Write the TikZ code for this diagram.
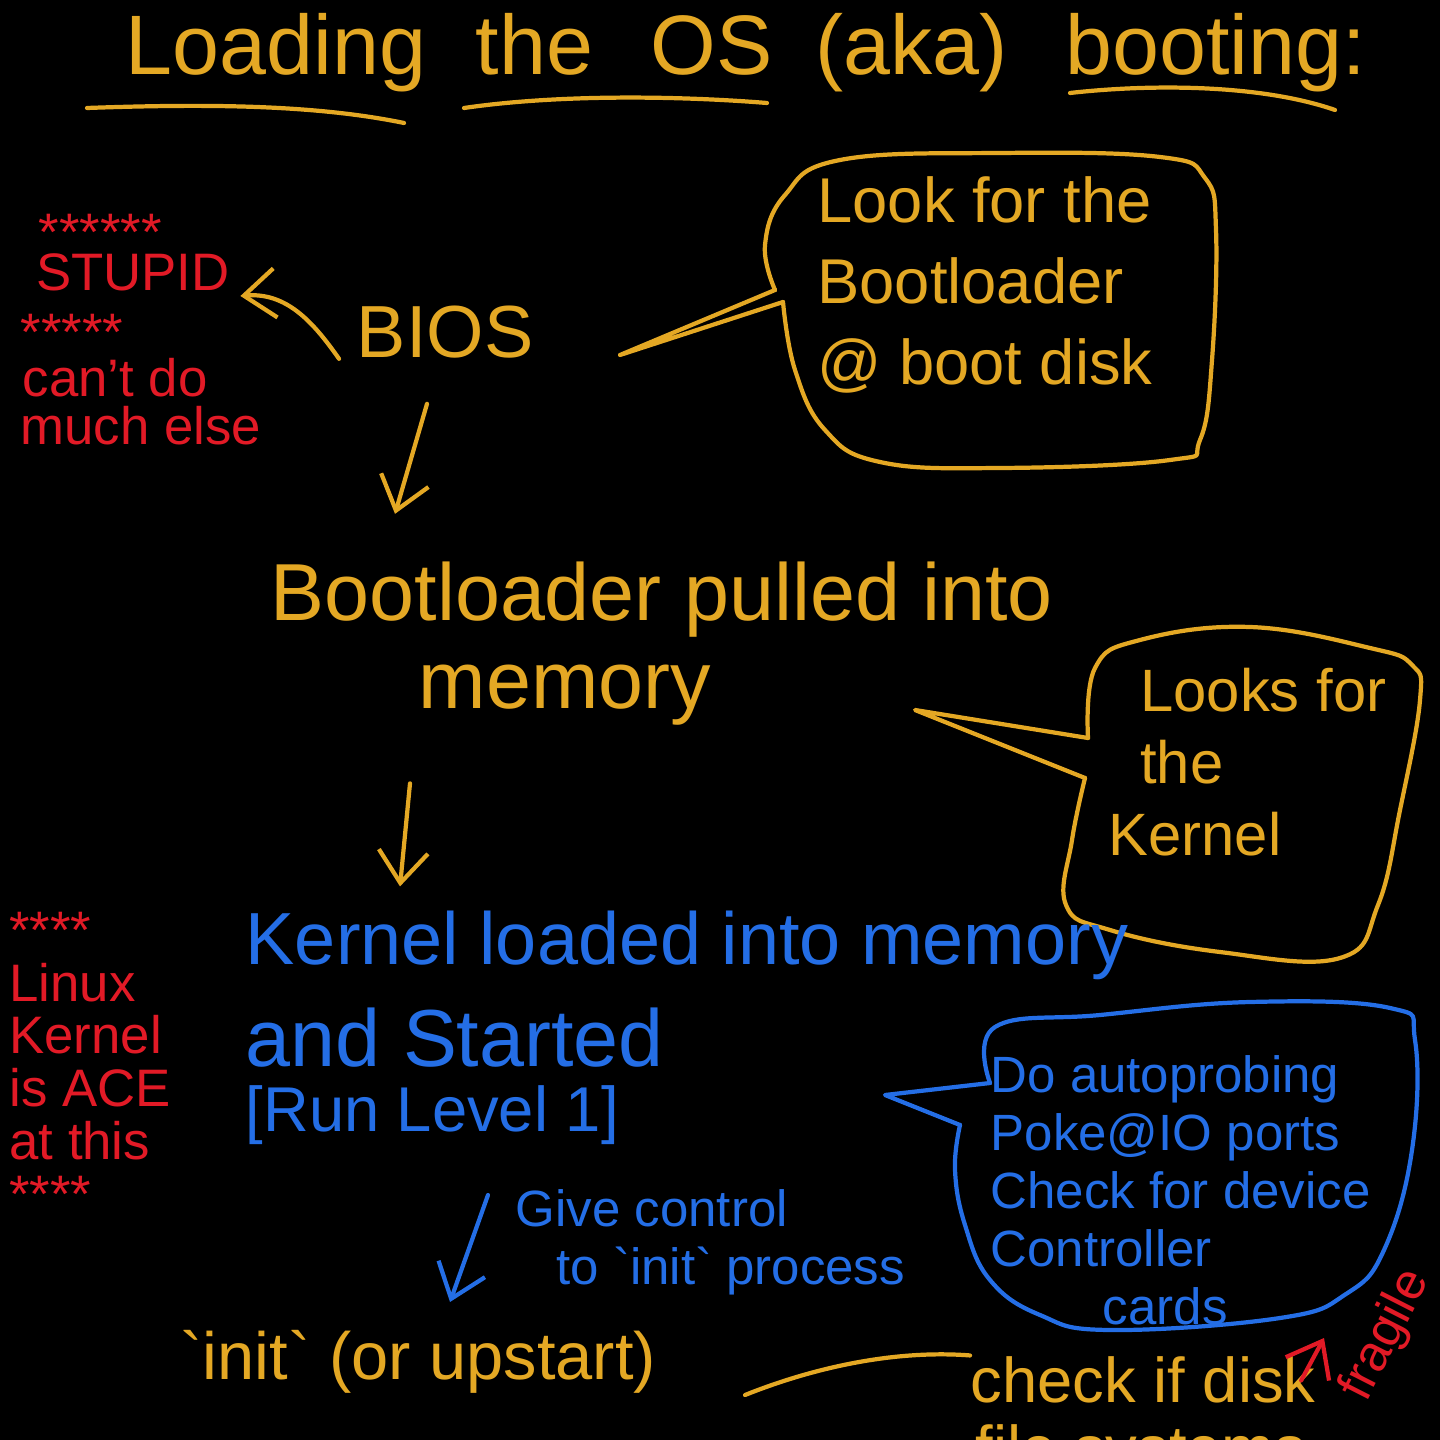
\documentclass[tikz,border=0pt]{standalone}
\usepackage{fontspec}
\setmainfont{Liberation Sans}
\usetikzlibrary{arrows.meta,calc,positioning}

\definecolor{chalkyellow}{RGB}{228,168,36}
\definecolor{chalkblue}{RGB}{36,110,230}
\definecolor{chalkred}{RGB}{226,26,38}

\newcommand{\fsTitle}{\fontsize{24}{28}\selectfont}
\newcommand{\fsMain}{\fontsize{23}{26}\selectfont}
\newcommand{\fsNote}{\fontsize{18}{23}\selectfont}
\newcommand{\fsProbe}{\fontsize{14.5}{16.5}\selectfont}
\newcommand{\fsRed}{\fontsize{15}{15}\selectfont}

\tikzset{
  ink/.style={line width=1.2pt,line cap=round,line join=round},
  yline/.style={ink,draw=chalkyellow},
  bline/.style={ink,draw=chalkblue},
  rline/.style={ink,draw=chalkred},
  ytext/.style={text=chalkyellow,inner sep=0pt},
  btext/.style={text=chalkblue,inner sep=0pt},
  rtext/.style={text=chalkred,inner sep=0pt},
  arr/.style={-{Straight Barb[length=9pt,width=14pt]}},
}

\begin{document}
\begin{tikzpicture}[x=0.01cm,y=-0.01cm]
  \useasboundingbox (0,0) rectangle (1440,1440);
  \fill[black] (0,0) rectangle (1440,1440);
  \clip (0,0) rectangle (1440,1440);

  % title
  \node[ytext,font=\fsTitle,anchor=base west] (tLoad) at (125,75) {Loading};
  \node[ytext,font=\fsTitle,anchor=base west] (tThe) at (475,75) {the};
  \node[ytext,font=\fsTitle,anchor=base west] (tOS) at (650,75) {OS};
  \node[ytext,font=\fsTitle,anchor=base west] (tAka) at (815,75) {(aka)};
  \node[ytext,font=\fsTitle,anchor=base west] (tBoot) at (1065,75) {booting:};
  \draw[yline] (87,108) .. controls (200,104) and (312,104) .. (404,123);
  \draw[yline] (464,108) .. controls (560,94) and (680,96) .. (767,103);
  \draw[yline] (1070,93) .. controls (1150,84) and (1260,84) .. (1335,110);

  % BIOS and the red remark
  \node[ytext,font=\fontsize{21}{24}\selectfont] (bios) at (445,332) {BIOS};
  \node[rtext,font=\fsRed] (stupid) at (133,272) {STUPID};
  \node[rtext,font=\fsRed,anchor=west] (starsA) at (38,232) {******};
  \node[rtext,font=\fsRed,anchor=west] (starsB) at (20,332) {*****};
  \node[rtext,font=\fsRed,anchor=west] (cant) at (22,378) {can't do};
  \node[rtext,font=\fsRed,anchor=west] (much) at (20,426) {much else};
  \draw[yline,arr] ($(bios.south west)+(-17,0)$) to[out=125,in=5] ($(stupid.east)+(10,24)$);

  % callout: bootloader
  \node[ytext,font=\fsNote,align=left] (lookboot) at (985,285) {Look for the\\Bootloader\\@ boot disk};
  \coordinate (bootTip) at (620,355);
  \draw[yline] (775,290) -- (bootTip) -- (783,302);
  \draw[yline] plot[smooth,tension=0.7] coordinates {(783,302) (795,370) (825,430) (880,462)
    (1000,468) (1170,460) (1200,440) (1212,360) (1216,230) (1205,178) (1160,157) (1000,153)
    (840,160) (785,195) (765,245) (775,290)};

  \draw[yline,arr] ($(bios.south)+(-18,45)$) -- ($(bios.south)+(-50,155)$);

  % bootloader
  \node[ytext,font=\fsMain,anchor=west] (bootld) at (270,600) {Bootloader pulled into};
  \node[ytext,font=\fsMain] (memory) at (565,695) {memory};
  \draw[yline,arr] ($(bootld.south west)+(140,145)$) -- ($(bootld.south west)+(130,248)$);

  % callout: kernel
  \node[ytext,font=\fontsize{17}{20.5}\selectfont,align=left,anchor=west] (lookkern) at (1108,762)
    {\hspace*{9pt}Looks for\\\hspace*{9pt}the\\Kernel};
  \coordinate (kernTip) at (915,710);
  \draw[yline] (1088,738) -- (kernTip) -- (1085,778);
  \draw[yline] plot[smooth,tension=0.7] coordinates {(1085,778) (1072,840) (1066,905) (1110,930)
    (1220,952) (1340,958) (1378,905) (1400,810) (1420,700) (1412,665) (1370,648) (1250,627)
    (1140,640) (1095,668) (1088,738)};

  % kernel
  \node[btext,font=\fontsize{21}{24}\selectfont,anchor=west] (kernld) at (245,945) {Kernel loaded into memory};
  \node[btext,font=\fontsize{23}{26}\selectfont,anchor=west] (started) at (245,1038) {and Started};
  \node[btext,font=\fontsize{18}{22}\selectfont,anchor=west] (runlvl) at (245,1115) {[Run Level 1]};
  \node[rtext,font=\fsRed,align=left] (ace) at (90,1062) {****\\Linux\\Kernel\\is ACE\\at this\\****};

  % callout: probing
  \node[btext,font=\fsProbe,align=left,anchor=west] (probe) at (990,1190)
    {Do autoprobing\\Poke@IO ports\\Check for device\\Controller\\\hspace*{2.2em}cards};
  \coordinate (probeTip) at (885,1095);
  \draw[bline] (990,1083) -- (probeTip) -- (960,1125);
  \draw[bline] plot[smooth,tension=0.7] coordinates {(960,1125) (955,1170) (965,1225) (990,1280)
    (1040,1315) (1110,1330) (1280,1318) (1346,1294) (1384,1250) (1412,1150) (1415,1040)
    (1390,1008) (1250,1002) (1100,1015) (995,1027) (990,1083)};

  % init
  \node[btext,font=\fsProbe,align=left,anchor=west] (give) at (515,1242)
    {Give control\\\hspace*{0.8em}to \textasciigrave init\textasciigrave\ process};
  \draw[bline,arr] ($(give.west)+(-27,-47)$) -- ($(give.west)+(-65,60)$);
  \node[ytext,font=\fontsize{19}{22}\selectfont,anchor=west] (initp) at (180,1362)
    {\textasciigrave init\textasciigrave\ (or upstart)};

  % disk check
  \node[ytext,font=\fsNote,anchor=base west] (chk) at (970,1402) {check if disk};
  \node[ytext,font=\fsNote,anchor=base west] (fsys) at (975,1470) {file systems};
  \coordinate (chkStart) at (745,1395);
  \draw[yline] (chkStart) .. controls (820,1365) and (900,1350) .. (chk.north west);
  \node[rtext,font=\fontsize{14.5}{17}\selectfont,rotate=63,anchor=base west] (fragile) at (1366,1404) {fragile};
  \draw[rline,arr] ($(chk.north east)+(-15,25)$) -- ($(fragile.base west)+(-42,-66)$);
\end{tikzpicture}
\end{document}
